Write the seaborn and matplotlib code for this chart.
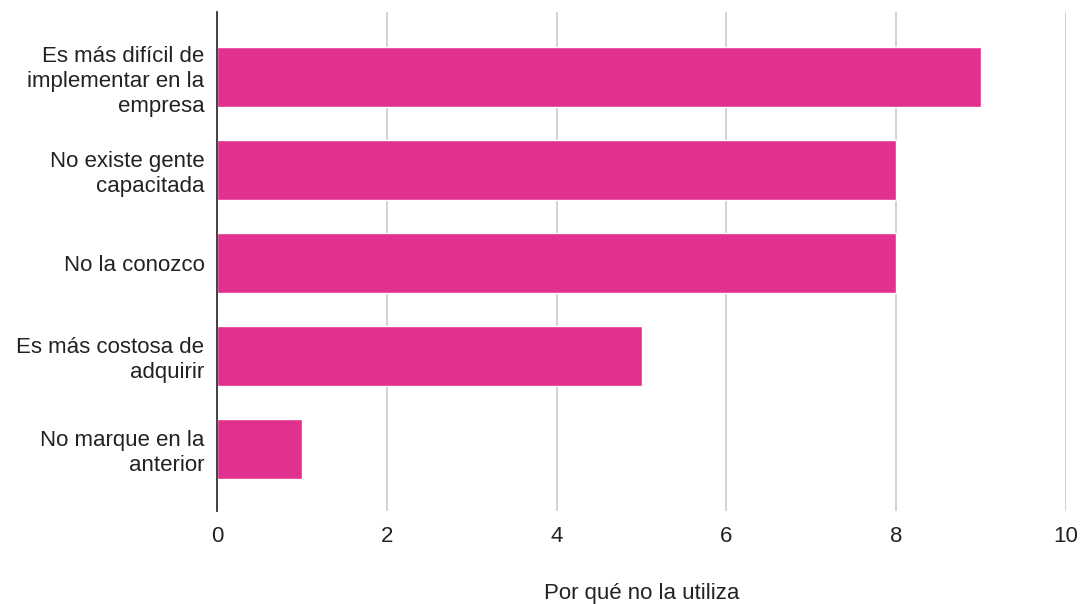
import matplotlib
matplotlib.use("Agg")
import matplotlib.pyplot as plt
import seaborn as sns
import pandas as pd

categories = [
    "Es más difícil de\nimplementar en la\nempresa",
    "No existe gente\ncapacitada",
    "No la conozco",
    "Es más costosa de\nadquirir",
    "No marque en la\nanterior",
]
counts = [9, 8, 8, 5, 1]
x_ticks = [0, 2, 4, 6, 8, 10]
x_title = "Por qué no la utiliza"

sns.set_theme(style="white")
plt.rcParams["font.family"] = ["Liberation Sans", "DejaVu Sans"]

df = pd.DataFrame({"motivo": categories, "n": counts})

fig = plt.figure(figsize=(10.84, 6.04), dpi=100)
ax = fig.add_axes([217 / 1084, 1 - 511 / 604, (1066 - 217) / 1084, (511 - 12) / 604])

sns.barplot(data=df, y="motivo", x="n", orient="h", color="#E2308E",
            saturation=1, width=0.645, ax=ax, zorder=3)

ax.set_xlim(0, 10)
ax.set_ylim(4.67, -0.7)
ax.set_xticks(x_ticks)
ax.set_xticklabels([str(t) for t in x_ticks], fontsize=16, color="#222222")
ax.tick_params(axis="y", labelsize=16, labelcolor="#222222", length=0, pad=9)
ax.tick_params(axis="x", length=0, pad=11)
for lbl in ax.get_yticklabels():
    lbl.set_horizontalalignment("right")
    lbl.set_multialignment("right")
    lbl.set_linespacing(1.25)

ax.grid(axis="x", color="#cccccc", linewidth=1.2, zorder=0)
ax.grid(axis="y", visible=False)
for side in ["top", "right", "bottom"]:
    ax.spines[side].set_visible(False)
ax.spines["left"].set_color("#333333")
ax.spines["left"].set_linewidth(1.3)
ax.spines["left"].set_zorder(4)

ax.set_ylabel("")
ax.set_xlabel(x_title, fontsize=16, color="#222222", labelpad=26)

fig.savefig("out.png", dpi=100, facecolor="white")
